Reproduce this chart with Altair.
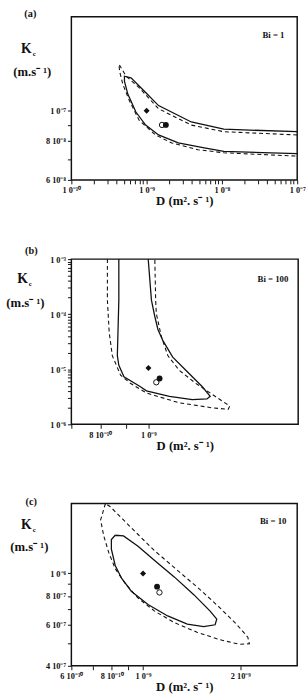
import altair as alt
import pandas as pd

SERIF = "Liberation Serif"
INK = "#111111"

# ---------------- panel (a) : Bi = 1 ----------------
a_solid_D = [1e-7, 1.06e-8, 3.92e-9, 1.44e-9, 9.7e-10, 6.2e-10, 5.07e-10, 5.07e-10, 5.62e-10,
             7.2e-10, 9.7e-10, 1.44e-9, 2.63e-9, 5.84e-9, 1.06e-8, 1e-7]
a_solid_K = [8.56e-8, 8.72e-8, 9.2e-8, 1.038e-7, 1.143e-7, 1.274e-7, 1.289e-7, 1.244e-7, 1.13e-7,
             9.9e-8, 8.99e-8, 8.36e-8, 7.88e-8, 7.6e-8, 7.4e-8, 7.29e-8]
a_dash_D = [1e-7, 1.06e-8, 3.92e-9, 1.44e-9, 7.94e-10, 5.34e-10, 4.6e-10, 4.29e-10, 4.37e-10,
            4.83e-10, 5.89e-10, 7.94e-10, 1.31e-9, 2.16e-9, 4.78e-9, 1.06e-8, 1e-7]
a_dash_K = [8.36e-8, 8.56e-8, 8.99e-8, 1.014e-7, 1.185e-7, 1.289e-7, 1.369e-7, 1.409e-7, 1.337e-7,
            1.214e-7, 1.077e-7, 9.32e-8, 8.36e-8, 7.88e-8, 7.5e-8, 7.33e-8, 7.15e-8]
a_mark_D = [1e-9, 1.6e-9, 1.8e-9]
a_mark_K = [1e-7, 9e-8, 9e-8]
a_x_ticks = [float(f"{m}e{e}") for e in (-10, -9, -8) for m in range(1, 10)] + [1e-7]
a_x_major = [1e-10, 1e-9, 1e-8, 1e-7]
a_x_text = ["1 0⁻¹⁰", "1 0⁻⁹", "1 0⁻⁸", "1 0⁻⁷"]
a_y_ticks = [6e-8, 7e-8, 8e-8, 9e-8, 1e-7]
a_y_major = [6e-8, 8e-8, 1e-7]
a_y_text = ["6  10⁻⁸", "8  10⁻⁸", "1 0⁻⁷"]

# ---------------- panel (b) : Bi = 100 ----------------
b_solid_D = [8.72e-10, 8.72e-10, 8.66e-10, 8.72e-10, 8.93e-10, 9.62e-10, 9.91e-10, 1.102e-9, 1.225e-9,
             1.311e-9, 1.331e-9, 1.282e-9, 1.189e-9, 1.119e-9, 1.07e-9, 1.045e-9, 1.03e-9, 1.014e-9, 9.99e-10]
b_solid_K = [1e-3, 1.8e-4, 1.77e-5, 1.18e-5, 7.32e-6, 4.86e-6, 4.06e-6, 3.23e-6, 2.81e-6,
             2.89e-6, 3.23e-6, 4.86e-6, 9.59e-6, 1.66e-5, 3.27e-5, 5.27e-5, 9.08e-5, 1.8e-4, 1e-3]
b_dash_D = [8.27e-10, 8.27e-10, 8.34e-10, 8.46e-10, 8.79e-10, 9.2e-10, 9.91e-10, 1.153e-9, 1.341e-9,
            1.446e-9, 1.457e-9, 1.361e-9, 1.244e-9, 1.153e-9, 1.094e-9, 1.061e-9, 1.037e-9, 1.034e-9, 1.03e-9]
b_dash_K = [1e-3, 1.8e-4, 4.66e-5, 1.77e-5, 7.82e-6, 5.57e-6, 3.7e-6, 2.46e-6, 2.0e-6,
            1.87e-6, 2.15e-6, 3.23e-6, 5.57e-6, 9.59e-6, 1.77e-5, 4.01e-5, 1.04e-4, 1.8e-4, 1e-3]
b_mark_D = [1e-9, 1.037e-9, 1.053e-9]
b_mark_K = [1.05e-5, 5.8e-6, 6.8e-6]
b_x_ticks = [7e-10, 8e-10, 9e-10, 1e-9]
b_x_major = [8e-10, 1e-9]
b_x_text = ["8  10⁻¹⁰", "1 0⁻⁹"]
b_y_ticks = [float(f"{m}e{e}") for e in (-6, -5, -4) for m in range(1, 10)] + [1e-3]
b_y_major = [1e-6, 1e-5, 1e-4, 1e-3]
b_y_text = ["1 0⁻⁶", "1 0⁻⁵", "1 0⁻⁴", "1 0⁻³"]

# ---------------- panel (c) : Bi = 10 ----------------
c_solid_D = [8.2e-10, 8.7e-10, 9.65e-10, 1.086e-9, 1.249e-9, 1.436e-9, 1.613e-9, 1.691e-9, 1.671e-9,
             1.54e-9, 1.371e-9, 1.192e-9, 1.036e-9, 9.21e-10, 8.59e-10, 8.2e-10, 7.98e-10, 7.98e-10, 8.2e-10]
c_solid_K = [1.46e-6, 1.45e-6, 1.31e-6, 1.136e-6, 9.66e-7, 8.1e-7, 6.88e-7, 6.35e-7, 6.01e-7,
             5.9e-7, 6.05e-7, 6.56e-7, 7.35e-7, 8.36e-7, 9.51e-7, 1.082e-6, 1.272e-6, 1.40e-6, 1.46e-6]
c_dash_D = [7.65e-10, 7.39e-10, 7.56e-10, 7.83e-10, 8.2e-10, 8.8e-10, 9.65e-10, 1.086e-9, 1.249e-9,
            1.469e-9, 1.73e-9, 1.99e-9, 2.134e-9, 2.11e-9, 1.945e-9, 1.73e-9, 1.504e-9, 1.278e-9,
            1.086e-9, 9.65e-10, 8.59e-10, 7.92e-10, 7.65e-10]
c_dash_K = [2.0e-6, 1.70e-6, 1.448e-6, 1.232e-6, 1.048e-6, 9.06e-7, 7.83e-7, 6.88e-7, 6.14e-7,
            5.58e-7, 5.18e-7, 4.95e-7, 4.98e-7, 5.31e-7, 6.05e-7, 7.11e-7, 8.5e-7, 1.031e-6,
            1.252e-6, 1.471e-6, 1.73e-6, 1.937e-6, 2.0e-6]
c_mark_D = [1e-9, 1.124e-9, 1.105e-9]
c_mark_K = [1.0e-6, 8.28e-7, 8.77e-7]
c_x_ticks = [6e-10, 7e-10, 8e-10, 9e-10, 1e-9, 2e-9]
c_x_major = [6e-10, 8e-10, 1e-9, 2e-9]
c_x_text = ["6  10⁻¹⁰", "8  10⁻¹⁰", "1 0⁻⁹", "2  10⁻⁹"]
c_y_ticks = [4e-7, 5e-7, 6e-7, 7e-7, 8e-7, 9e-7, 1e-6]
c_y_major = [4e-7, 6e-7, 8e-7, 1e-6]
c_y_text = ["4  10⁻⁷", "6  10⁻⁷", "8  10⁻⁷", "1 0⁻⁶"]

mark_kind = ["diamond", "open", "filled"]
x_title = "D  (m². s⁻ ¹)"
y_title = "(m.s⁻ ¹)"


def lab_expr(vals, texts):
    s = ""
    for v, t in zip(vals, texts):
        s += f"datum.value == {v!r} ? '{t}' : "
    return s + "''"


def axis(ticks, major, texts, title):
    return alt.Axis(values=ticks, labelExpr=lab_expr(major, texts), title=title, grid=False,
                    domain=False, tickSize=4, tickColor=INK, tickWidth=1,
                    labelFont=SERIF, labelFontSize=8.5, labelFontWeight="bold", labelColor=INK,
                    labelPadding=2, labelFlush=False, labelOverlap=False,
                    titleFont=SERIF, titleFontSize=13, titleFontWeight="bold", titleColor=INK,
                    titlePadding=1)


def txt(t, x, y, size, align="center", opacity=1):
    return alt.Chart(pd.DataFrame({"t": [t]})).mark_text(
        font=SERIF, fontWeight="bold", fontSize=size, color=INK, align=align, baseline="middle",
        opacity=opacity
    ).encode(x=alt.value(x), y=alt.value(y), text="t:N")


def panel(tag, bi, sD, sK, dD, dK, mD, mK, xdom, ydom, xt, xm, xs, yt, ym, ys, w, h, pos):
    xenc = alt.X("D:Q", scale=alt.Scale(type="log", domain=xdom, nice=False),
                 axis=axis(xt, xm, xs, x_title))
    yenc = alt.Y("K:Q", scale=alt.Scale(type="log", domain=ydom, nice=False),
                 axis=axis(yt, ym, ys, ""))
    solid = pd.DataFrame({"D": sD, "K": sK, "i": range(len(sD))})
    dash = pd.DataFrame({"D": dD, "K": dK, "i": range(len(dD))})
    marks = pd.DataFrame({"D": mD, "K": mK, "kind": mark_kind})
    l_solid = alt.Chart(solid).mark_line(color=INK, strokeWidth=1.3, clip=True).encode(
        x=xenc, y=yenc, order="i:Q")
    l_dash = alt.Chart(dash).mark_line(color=INK, strokeWidth=1.1, strokeDash=[4, 3], clip=True).encode(
        x=xenc, y=yenc, order="i:Q")
    p_dia = alt.Chart(marks[marks.kind == "diamond"]).mark_point(
        shape="diamond", filled=True, color=INK, size=38, opacity=1).encode(x=xenc, y=yenc)
    p_open = alt.Chart(marks[marks.kind == "open"]).mark_point(
        shape="circle", filled=True, fill="white", stroke=INK, strokeWidth=1, size=30, opacity=1).encode(x=xenc, y=yenc)
    p_fill = alt.Chart(marks[marks.kind == "filled"]).mark_point(
        shape="circle", filled=True, color=INK, size=36, opacity=1).encode(x=xenc, y=yenc)
    t = pos
    texts = [
        txt(tag, t["tag"][0], t["tag"][1], 10.5),
        txt("K", t["K"][0], t["K"][1], 14),
        txt("c", t["K"][0] + 8, t["K"][1] + 5, 7),
        txt(y_title, t["u"][0], t["u"][1], 13),
        txt(bi, t["bi"][0], t["bi"][1], 9, align="right"),
    ]
    if "spacer" in t:
        texts.append(txt(tag, t["spacer"][0], t["spacer"][1], 10.5, opacity=0))
    return alt.layer(l_dash, l_solid, p_dia, p_open, p_fill, *texts).properties(width=w, height=h)


pa = panel("(a)", "Bi  =  1", a_solid_D, a_solid_K, a_dash_D, a_dash_K, a_mark_D, a_mark_K,
           [1e-10, 1e-7], [6e-8, 2e-7], a_x_ticks, a_x_major, a_x_text, a_y_ticks, a_y_major, a_y_text,
           231, 167, {"tag": (-42, -3), "K": (-46, 33), "u": (-40, 57), "bi": (218, 19)})
pb = panel("(b)", "Bi  =  100", b_solid_D, b_solid_K, b_dash_D, b_dash_K, b_mark_D, b_mark_K,
           [7e-10, 2e-9], [1e-6, 1e-3], b_x_ticks, b_x_major, b_x_text, b_y_ticks, b_y_major, b_y_text,
           232, 169, {"tag": (-41, -8), "K": (-50, 20), "u": (-47, 45), "bi": (222, 20)})
pc = panel("(c)", "Bi  =  10", c_solid_D, c_solid_K, c_dash_D, c_dash_K, c_mark_D, c_mark_K,
           [6e-10, 3e-9], [4e-7, 2e-6], c_x_ticks, c_x_major, c_x_text, c_y_ticks, c_y_major, c_y_text,
           231, 166, {"tag": (-41, -2), "K": (-46, 22), "u": (-43, 45), "bi": (220, 18),
                      "spacer": (-41, -8)})

chart = alt.vconcat(pa, pb, pc, spacing=37).properties(
    padding={"left": 5, "top": 0, "right": 0, "bottom": 0}, background="white"
).configure_view(stroke=INK, strokeWidth=1.5)

chart.save("out.html", embed_options={"renderer": "svg", "actions": False})
